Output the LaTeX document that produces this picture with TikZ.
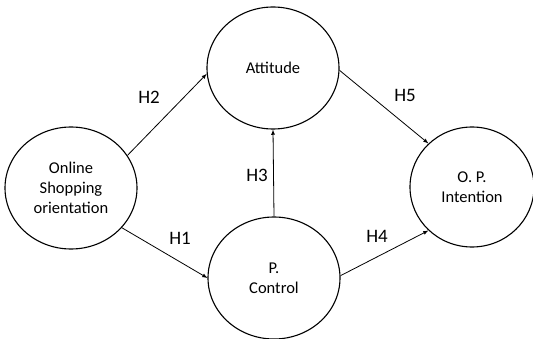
\documentclass[tikz,border=0pt]{standalone}
\usepackage{fontspec}
\setmainfont{Carlito}
\usetikzlibrary{arrows}
\usetikzlibrary{shapes.geometric}
\tikzset{construct/.style = {ellipse, draw, line width=1.1pt, minimum width=132pt,
                             minimum height=122pt, align=center, inner sep=0pt,
                             font=\fontsize{16.5}{20}\selectfont},
         link/.style = {-latex, line width=0.8pt},
         hyp/.style = {font=\fontsize{19}{22}\selectfont, inner sep=0pt}}
\begin{document}
\begin{tikzpicture}[x=1pt, y=-1pt]
    \useasboundingbox (0, 0) rectangle (533, 339);
    \node [construct] (osc) at (71, 188) {Online\\Shopping\\orientation};
    \node [construct] (att) at (273, 68) {Attitude};
    \node [construct] (ctrl) at (274, 278) {P.\\Control};
    \node [construct, minimum width=124pt, minimum height=120pt] (opi) at (472, 187) {O. P.\\Intention};

    \draw [link] (osc.30) -- (att.185);
    \draw [link] (osc.-38) -- (ctrl.180);
    \draw [link] (ctrl.north) -- (att.south);
    \draw [link] (att.-2) -- (opi.135);
    \draw [link] (ctrl.2) -- (opi.-135);

    \node [hyp] (h2) at (149, 97) {H2};
    \node [hyp] (h1) at (180, 238) {H1};
    \node [hyp] (h3) at (257, 175) {H3};
    \node [hyp] (h5) at (405, 95) {H5};
    \node [hyp] (h4) at (377, 236) {H4};
  \end{tikzpicture}
\end{document}
